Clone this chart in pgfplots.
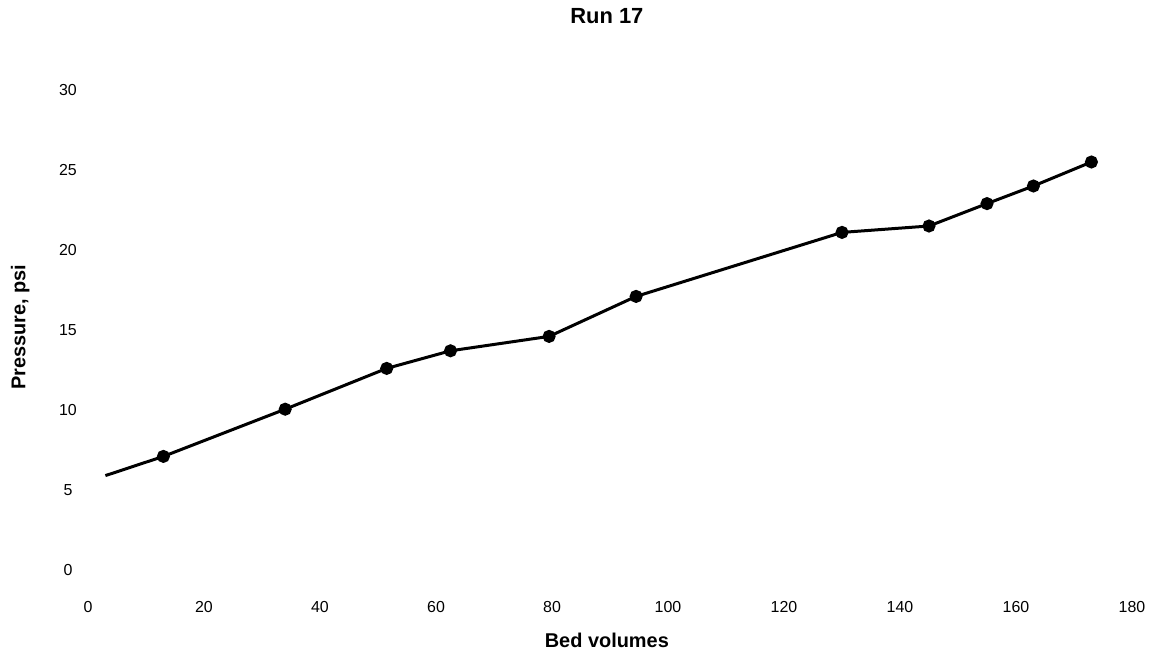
\documentclass[border=0pt]{standalone}
\usepackage{fontspec}
\setmainfont{Liberation Sans}
\usepackage{pgfplots}
\pgfplotsset{compat=1.18}
\begin{document}
\begin{tikzpicture}
\begin{axis}[
  scale only axis,
  width=1044bp, height=480bp,
  xmin=0, xmax=180, ymin=0, ymax=30,
  axis x line=bottom, axis y line=left,
  axis line style={draw=none},
  tick style={draw=none},
  major tick length=0pt,
  xtick={0,20,...,180}, ytick={0,5,...,30},
  /pgf/number format/assume math mode=true,
  ticklabel style={font=\fontsize{16}{18}\selectfont},
  xticklabel style={anchor=center, yshift=-37bp},
  yticklabel style={anchor=center, xshift=-20bp},
  title={Run 17},
  title style={font=\fontsize{22}{25}\selectfont\bfseries, at={(axis description cs:0.497,1)}, anchor=center, yshift=68bp},
  xlabel={Bed volumes},
  xlabel style={font=\fontsize{20}{23}\selectfont\bfseries, at={(axis description cs:0.497,0)}, anchor=center, yshift=-70bp},
  ylabel={Pressure, psi},
  ylabel style={font=\fontsize{20}{23}\selectfont\bfseries, at={(axis description cs:-0.065,0.506)}, anchor=center, rotate=0},
  clip=false,
]
\addplot[black, line width=3bp, mark=*, mark size=5bp, mark options={solid, fill=black},
  mark indices={2,3,4,5,6,7,8,9,10,11,12}] coordinates {
  (3,5.9) (13,7.1) (34,10.05) (51.5,12.6) (62.5,13.7) (79.5,14.6)
  (94.5,17.1) (130,21.1) (145,21.5) (155,22.9) (163,24.0) (173,25.5)
};
\end{axis}
\pgfresetboundingbox
\path[use as bounding box] ([xshift=-88bp,yshift=-89bp]current axis.south west) rectangle ([xshift=26bp,yshift=90bp]current axis.north east);
\end{tikzpicture}
\end{document}
